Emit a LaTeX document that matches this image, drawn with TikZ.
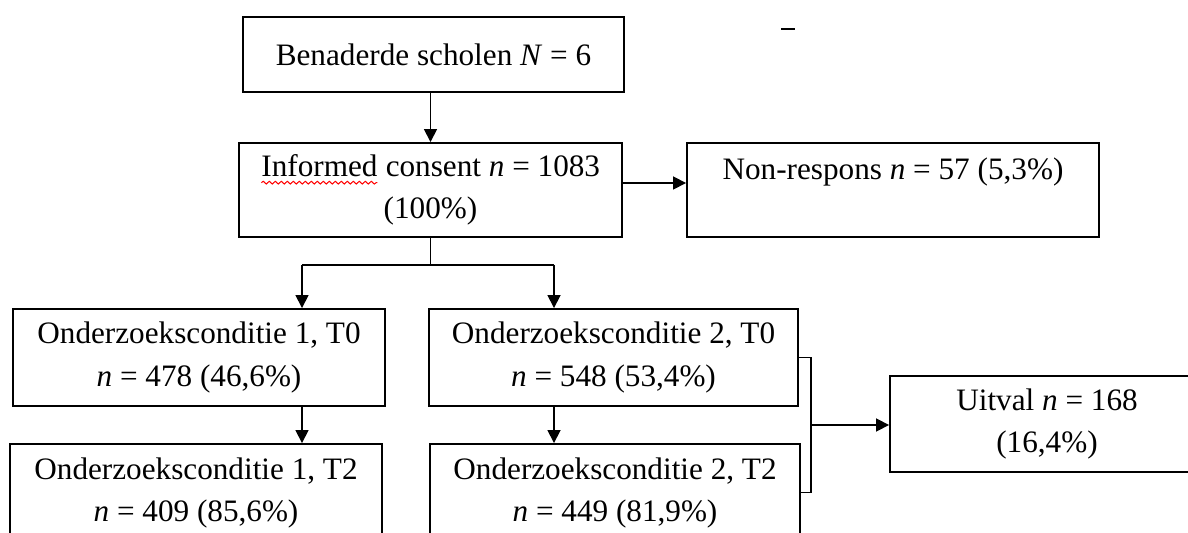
\documentclass[tikz,border=0pt]{standalone}
\usepackage{fontspec}
\setmainfont{Liberation Serif}
\usetikzlibrary{arrows.meta,calc,decorations.pathmorphing}
\newcommand\spellwave[1]{\tikz[baseline=(sw.base)]{%
  \node[draw=none,inner sep=0pt,outer sep=0pt,minimum width=0pt,minimum height=0pt] (sw) {#1};
  \draw[red,line width=0.5pt,decorate,decoration={snake,amplitude=0.7pt,segment length=3pt}]
    ([yshift=-3pt]sw.base west) -- ([yshift=-3pt]sw.base east);}}

\begin{document}
\begin{tikzpicture}[x=0.5pt,y=-0.5pt,
    box/.style={draw,line width=0.95pt,align=center,inner sep=0pt,
      font=\fontsize{15.6}{21}\selectfont},
    ln/.style={line width=0.85pt},
    arr/.style={line width=0.85pt,-{Triangle[length=6.5pt,width=6.5pt]}}]
  \useasboundingbox (0,0) rectangle (1188,533);
  %%%%% boxes %%%%%
  \node[box,minimum width=190.5pt,minimum height=37.5pt] (bena) at (433.5,54.5)
    {Benaderde scholen \textit{N} = 6};
  \node[box,minimum width=191.5pt,minimum height=47pt] (inf) at (430.5,190)
    {\spellwave{Informed} consent \textit{n} = 1083\\(100\%)};
  \node[box,minimum width=206pt,minimum height=47pt] (non) at (893,190)
    {Non-respons \textit{n} = 57 (5,3\%)\\\mbox{}};

  \node[box,minimum width=186pt,minimum height=48.5pt] (c1t0) at (199,357.5)
    {Onderzoeksconditie 1, T0\\\textit{n} = 478 (46,6\%)};
  \node[box,minimum width=186pt,minimum height=48.5pt] (c1t2) at (196,492.5)
    {Onderzoeksconditie 1, T2\\\textit{n} = 409 (85,6\%)};
  \node[box,minimum width=184.5pt,minimum height=48.5pt] (c2t0) at (613.5,357.5)
    {Onderzoeksconditie 2, T0\\\textit{n} = 548 (53,4\%)};
  \node[box,minimum width=185pt,minimum height=48.5pt] (c2t2) at (615,492.5)
    {Onderzoeksconditie 2, T2\\\textit{n} = 449 (81,9\%)};

  \node[box,minimum width=157pt,minimum height=48pt] (uit) at (1047,424)
    {Uitval \textit{n} = 168\\(16,4\%)};

  %%%%% connectors %%%%%
  \draw[arr] (inf.north |- bena.south) -- (inf.north);
  \draw[arr] ([yshift=3.5pt]inf.east) -- ([yshift=3.5pt]non.west);

  \coordinate (k1) at (302,265);
  \coordinate (k2) at (554,265);
  \draw[ln] (inf.south) -- (inf.south |- k1);
  \draw[ln] (k1) -- (k2);
  \draw[arr] (k1) -- (k1 |- c1t0.north);
  \draw[arr] (k2) -- (k2 |- c2t0.north);
  \draw[arr] (k1 |- c1t0.south) -- (k1 |- c1t2.north);
  \draw[arr] (k2 |- c2t0.south) -- (k2 |- c2t2.north);

  \coordinate (brk) at (811,425);
  \draw[ln] (c2t0.east) -| (brk) |- (c2t2.east);
  \draw[arr] (brk) -- (brk -| uit.west);

  % stray mark top right
  \draw[line width=1pt] (781,29) -- (795,29);
\end{tikzpicture}
\end{document}
